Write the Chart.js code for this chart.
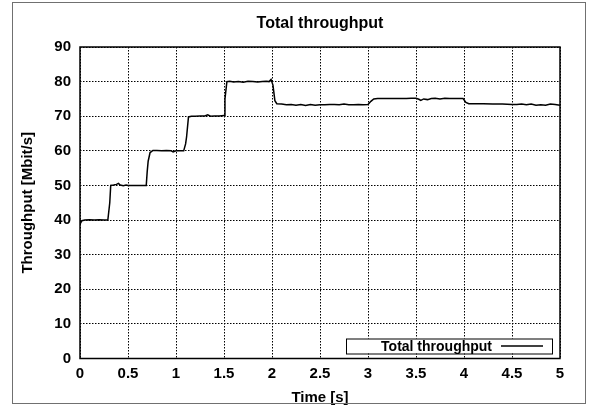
<!DOCTYPE html>
<html>
<head>
<meta charset="utf-8">
<script src="https://cdn.jsdelivr.net/npm/chart.js@4.4.1/dist/chart.umd.min.js"></script>
<style>
  html, body { margin: 0; padding: 0; background: #fff; }
  #wrap { position: relative; width: 589px; height: 405px; }
  #frame { position: absolute; left: 12px; top: 2px; width: 572px; height: 400px; border: 1px solid #707070; pointer-events: none; }
</style>
</head>
<body>
<div id="wrap">
  <canvas id="thrChart" width="589" height="405"></canvas>
  <div id="frame"></div>
</div>
<script>
const chartTitle = "Total throughput";
const seriesLabel = "Total throughput";
const xTitle = "Time [s]";
const yTitle = "Throughput [Mbit/s]";

const times = [0, 0.02, 0.05, 0.1, 0.15, 0.2, 0.25, 0.29, 0.31, 0.32, 0.35, 0.38, 0.4, 0.42, 0.45, 0.48, 0.5, 0.55, 0.6, 0.65, 0.69,
  0.7, 0.71, 0.73, 0.76, 0.8, 0.85, 0.9, 0.95, 0.97, 1.0, 1.04, 1.08, 1.1, 1.11, 1.13, 1.16, 1.2, 1.25, 1.3, 1.33, 1.36, 1.4, 1.45, 1.5,
  1.51, 1.53, 1.56, 1.6, 1.65, 1.7, 1.75, 1.8, 1.85, 1.9, 1.94, 1.97, 1.99, 2.01, 2.03, 2.05, 2.1, 2.15, 2.2, 2.25, 2.3, 2.35, 2.4,
  2.45, 2.5, 2.55, 2.6, 2.65, 2.7, 2.75, 2.8, 2.85, 2.9, 2.95, 3.0, 3.03, 3.06, 3.1, 3.2, 3.3, 3.4, 3.45, 3.5, 3.53, 3.55, 3.58, 3.62,
  3.66, 3.7, 3.75, 3.8, 3.85, 3.9, 3.95, 3.99, 4.02, 4.05, 4.1, 4.2, 4.3, 4.4, 4.5, 4.55, 4.6, 4.65, 4.7, 4.75, 4.8, 4.85, 4.9, 4.95, 5.0];

const throughput = [38.8, 39.8, 40, 40.1, 40, 40.1, 40, 40, 45, 50, 50.1, 50.3, 50.6, 50.1, 49.9, 50.1, 50, 50, 50, 50, 50,
  54, 57, 59.5, 60.1, 60.1, 60, 60.1, 60, 59.7, 60, 60, 60, 62, 64, 69.8, 70, 70, 70.1, 70.1, 70.4, 70, 70.1, 70.1, 70.2,
  75, 80, 80.1, 79.9, 80, 79.8, 80.1, 80, 79.9, 80, 80.1, 80, 80.6, 79, 74.5, 73.6, 73.5, 73.3, 73.4, 73.2, 73.4, 73.1, 73.4,
  73.2, 73.3, 73.3, 73.4, 73.4, 73.3, 73.5, 73.3, 73.3, 73.4, 73.3, 73.4, 74.3, 75, 75.1, 75.1, 75.1, 75.1, 75.2, 75.2, 74.9, 74.6, 75, 74.8,
  75.1, 75.2, 75, 75.2, 75.1, 75.1, 75.1, 75.1, 74, 73.6, 73.6, 73.6, 73.5, 73.5, 73.4, 73.4, 73.5, 73.3, 73.5, 73.2, 73.3, 73.2, 73.5, 73.4, 73.2];

const fontFam = "'Liberation Sans', Arial, sans-serif";

// plot border + legend box drawn inside the plot, gnuplot style
const frameAndLegend = {
    id: "frameAndLegend",
    afterDraw(chart) {
        const { ctx, chartArea: a } = chart;
        ctx.save();
        ctx.strokeStyle = "#000";
        ctx.lineWidth = 1.5;
        ctx.strokeRect(a.left, a.top, a.right - a.left, a.bottom - a.top);

        const bx = a.right - 214, by = a.bottom - 20, bw = 206, bh = 15;
        ctx.fillStyle = "#fff";
        ctx.fillRect(bx, by, bw, bh);
        ctx.lineWidth = 1;
        ctx.strokeRect(bx + 0.5, by + 0.5, bw, bh);
        ctx.fillStyle = "#000";
        ctx.font = "bold 14px " + fontFam;
        ctx.textAlign = "right";
        ctx.textBaseline = "middle";
        ctx.fillText(chart.data.datasets[0].label, bx + 146, by + bh / 2 + 1);
        ctx.beginPath();
        ctx.moveTo(bx + 155, by + bh / 2);
        ctx.lineTo(bx + 197, by + bh / 2);
        ctx.lineWidth = 1.3;
        ctx.stroke();
        ctx.restore();
    }
};

const ctx = document.getElementById("thrChart").getContext("2d");

new Chart(ctx, {
    type: "line",
    data: {
        datasets: [{
            label: seriesLabel,
            data: times.map((t, i) => ({ x: t, y: throughput[i] })),
            borderColor: "#000",
            borderWidth: 1.5,
            pointRadius: 0,
            tension: 0,
            fill: false
        }]
    },
    options: {
        responsive: false,
        animation: false,
        layout: { padding: { left: 12, right: 29, top: 0, bottom: 0 } },
        plugins: {
            legend: { display: false },
            tooltip: { enabled: false },
            title: {
                display: true,
                text: chartTitle,
                fullSize: false,
                color: "#000",
                font: { family: fontFam, size: 16, weight: "bold" },
                padding: { top: 14, bottom: 13.8 }
            }
        },
        scales: {
            x: {
                type: "linear",
                min: 0,
                max: 5,
                ticks: {
                    stepSize: 0.5,
                    color: "#000",
                    padding: 6,
                    maxRotation: 0,
                    font: { family: fontFam, size: 15, weight: "bold" },
                    callback: (v) => String(v)
                },
                grid: { color: "#000", drawTicks: false },
                border: { display: false, dash: [1.5, 1.5] },
                title: {
                    display: true,
                    text: xTitle,
                    color: "#000",
                    padding: { top: 2, bottom: -2 },
                    font: { family: fontFam, size: 15, weight: "bold" }
                },
                afterFit(scale) { scale.height = 46.5; }
            },
            y: {
                min: 0,
                max: 90,
                ticks: {
                    stepSize: 10,
                    color: "#000",
                    padding: 9,
                    font: { family: fontFam, size: 15, weight: "bold" },
                    callback: (v) => String(v)
                },
                grid: { color: "#000", drawTicks: false },
                border: { display: false, dash: [1.5, 1.5] },
                title: {
                    display: true,
                    text: yTitle,
                    color: "#000",
                    padding: { top: 7, bottom: 0 },
                    font: { family: fontFam, size: 15, weight: "bold" }
                },
                afterFit(scale) { scale.width = 68; }
            }
        }
    },
    plugins: [frameAndLegend]
});
</script>
</body>
</html>
